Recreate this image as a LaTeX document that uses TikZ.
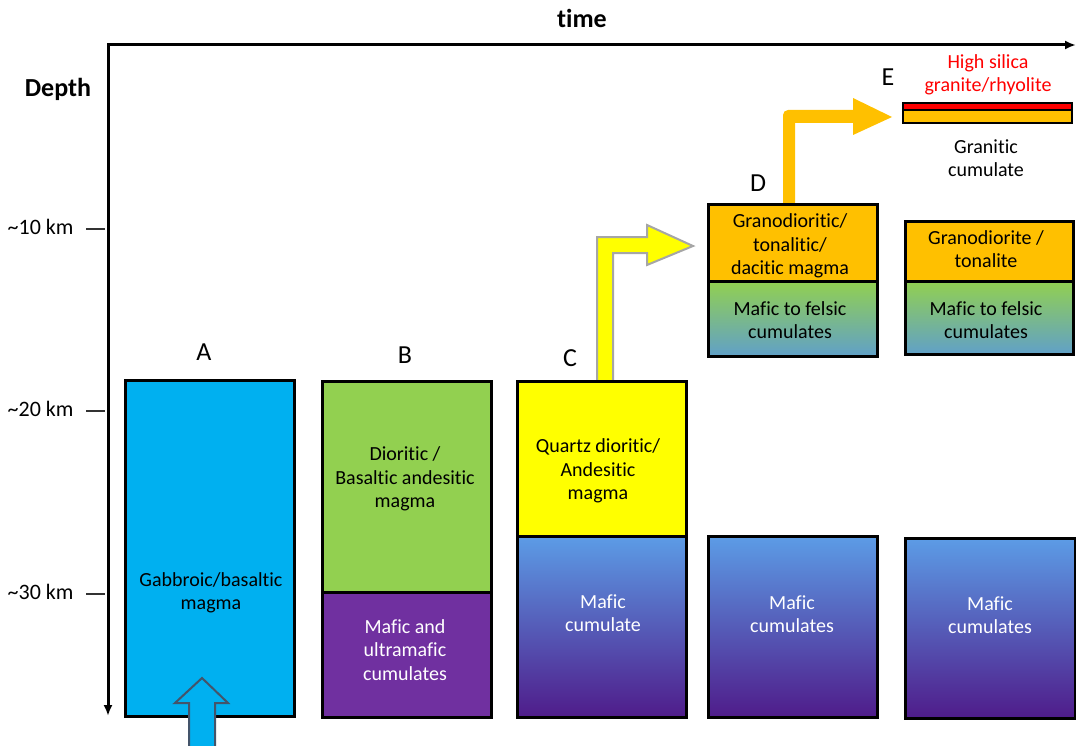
\documentclass[tikz,border=0pt]{standalone}
\usepackage{fontspec}
\setmainfont{Carlito}[RawFeature=-liga]
\usetikzlibrary{positioning,arrows.meta}

\definecolor{gabbro}{HTML}{00B0F0}
\definecolor{diorite}{HTML}{92D050}
\definecolor{ultramafic}{HTML}{7030A0}
\definecolor{andesite}{HTML}{FFFF00}
\definecolor{dacite}{HTML}{FFC000}
\definecolor{cumtop}{HTML}{5C9CE6}
\definecolor{cummid}{HTML}{4858BC}
\definecolor{cumbot}{HTML}{4F1C8A}
\definecolor{felsbot}{HTML}{5B9BD5}
\definecolor{arrowgray}{HTML}{A6A6A6}
\definecolor{arrowslate}{HTML}{44546A}

\tikzset{
    layer/.style = {
        draw = black,
        line width = 3pt,
        inner sep = 0pt,
        outer sep = 0pt,
        anchor = north west,
        },
    mafic cum/.style = {
        top color = cumtop,
        middle color = cummid,
        bottom color = cumbot,
        },
    felsic cum/.style = {
        top color = diorite,
        middle color = diorite!92!felsbot,
        bottom color = felsbot!90!diorite,
        },
    txt/.style = {
        align = center,
        font = \fontsize{20}{23.5}\selectfont,
        },
    stage/.style = {
        font = \fontsize{26}{30}\selectfont,
        },
    axis title/.style = {
        font = \fontsize{26}{30}\selectfont\bfseries,
        },
    depth tick/.style = {
        draw = black!80,
        line width = 1.2pt,
        },
    tick label/.style = {
        anchor = east,
        font = \fontsize{22}{26}\selectfont,
        },
}

\begin{document}
\begin{tikzpicture}[x=1pt, y=-1pt]
    \useasboundingbox (0,0) rectangle (1076,746);

    % axes
    \coordinate (origin) at (108,45);
    \coordinate (depthend) at (108,716);
    \coordinate (timeend) at (1076,45);
    \draw[line width=3pt, {Latex[length=11pt,width=9pt]}-{Latex[length=11pt,width=9pt]}] (depthend) -- (origin) -- (timeend);
    \node[axis title] (time) at (582,18) {time};
    \node[axis title] (depth) at (58,89) {Depth};

    % depth ticks
    \foreach \km/\yy in {10/229, 20/411, 30/594} {
        \coordinate (tick\km) at (86,\yy);
        \coordinate (tickend\km) at (105,\yy);
        \draw[depth tick] (tick\km) -- (tickend\km);
        \node[tick label] (lab\km) at (77,\yy-2) {\textasciitilde\km{} km};
    }

    % transfer arrows (behind the boxes)
    \filldraw[fill=andesite, draw=arrowgray, line width=2pt]
        (597,381) -- (597,237) -- (647,237) -- (647,225) -- (693,246)
        -- (647,265) -- (647,253) -- (613,253) -- (613,381) -- cycle;
    \fill[dacite]
        (783,205) [rounded corners=5pt] -- (783,110) [sharp corners] -- (853,110) -- (853,98)
        -- (892,117) -- (853,135) -- (853,123) -- (795,123) -- (795,205) -- cycle;

    % A
    \node[stage] (A) at (204,352) {A};
    \node[layer, fill=gabbro, minimum width=169pt, minimum height=336pt] (Amag) at (125,380) {};
    \node[txt] (Atxt) at (211,593) {Gabbroic/basaltic\\magma};

    % B
    \node[stage] (B) at (405,355) {B};
    \node[layer, fill=diorite, minimum width=169pt, minimum height=211pt] (Bmag) at (322,381) {};
    \node[layer, fill=ultramafic, minimum width=169pt, minimum height=125pt, below=0pt of Bmag] (Bcum) {};
    \node[txt] (Btxt) at (405,479) {Dioritic /\\Basaltic andesitic\\magma};
    \node[txt, white] (Bcumtxt) at (405,650) {Mafic and\\ultramafic\\cumulates};

    % C
    \node[stage] (C) at (570,358) {C};
    \node[layer, fill=andesite, minimum width=169pt, minimum height=155pt] (Cmag) at (517,381) {};
    \node[layer, mafic cum, minimum width=169pt, minimum height=181pt, below=0pt of Cmag] (Ccum) {};
    \node[txt] (Ctxt) at (598,471) {Quartz dioritic/\\Andesitic\\magma};
    \node[txt, white] (Ccumtxt) at (603,613) {Mafic\\cumulate};

    % D
    \node[stage] (D) at (758,183) {D};
    \node[layer, fill=dacite, minimum width=169pt, minimum height=76pt] (Dmag) at (708,205) {};
    \node[layer, felsic cum, minimum width=169pt, minimum height=75pt, below=0pt of Dmag] (Dmid) {};
    \node[layer, mafic cum, minimum width=169pt, minimum height=181pt] (Dcum) at (708,536) {};
    \node[txt] (Dtxt) at (790,246) {Granodioritic/\\tonalitic/\\dacitic magma};
    \node[txt] (Dmidtxt) at (790,320) {Mafic to felsic\\cumulates};
    \node[txt, white] (Dcumtxt) at (792,614) {Mafic\\cumulates};

    % E
    \node[stage] (E) at (888,77) {E};
    \node[layer, fill=red, line width=2.5pt, minimum width=169pt, minimum height=7pt] (Erhy) at (903,103) {};
    \node[layer, fill=dacite, line width=2.5pt, minimum width=169pt, minimum height=13pt, below=0pt of Erhy] (Egran) {};
    \node[txt, red] (Erhytxt) at (988,75) {High silica\\granite/rhyolite};
    \node[txt] (Egrantxt) at (986,158) {Granitic\\cumulate};
    \node[layer, fill=dacite, minimum width=168pt, minimum height=59pt] (Eton) at (905,222) {};
    \node[layer, felsic cum, minimum width=168pt, minimum height=73pt, below=0pt of Eton] (Emid) {};
    \node[layer, mafic cum, minimum width=170pt, minimum height=180pt] (Ecum) at (905,538) {};
    \node[txt] (Etontxt) at (986,249) {Granodiorite /\\tonalite};
    \node[txt] (Emidtxt) at (986,320) {Mafic to felsic\\cumulates};
    \node[txt, white] (Ecumtxt) at (990,615) {Mafic\\cumulates};

    % feeder arrow into A
    \filldraw[fill=gabbro, draw=arrowslate, line width=2pt]
        (189,748) -- (189,703) -- (175,703) -- (202,678) -- (228,703) -- (215,703) -- (215,748);
\end{tikzpicture}
\end{document}
